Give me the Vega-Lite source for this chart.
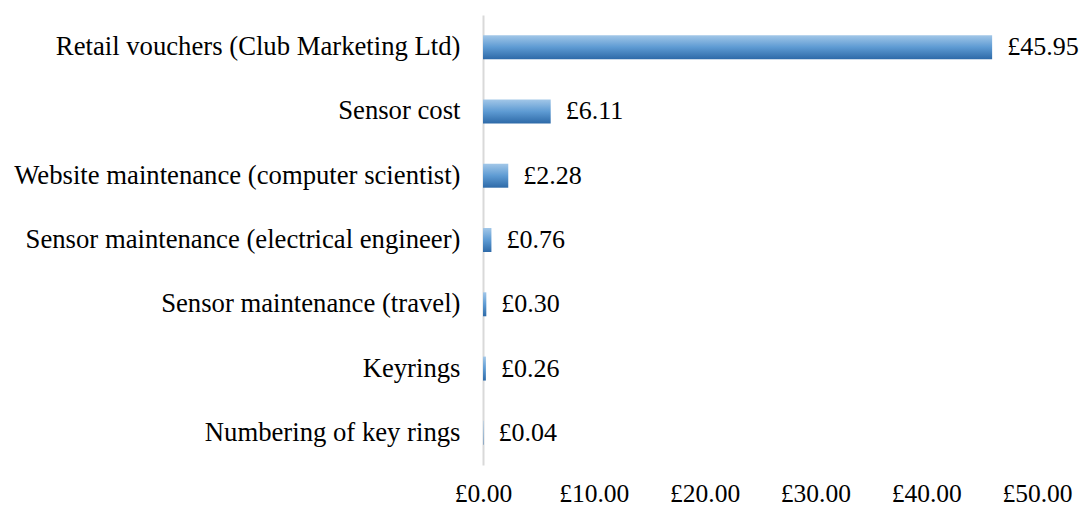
{
  "$schema": "https://vega.github.io/schema/vega-lite/v6.json",
  "autosize": "none",
  "width": 554,
  "height": 450,
  "padding": {"left": 483, "top": 15, "right": 45, "bottom": 43},
  "background": "white",
  "config": {
    "view": {"stroke": null},
    "font": "Liberation Serif",
    "locale": {"number": {"decimal": ".", "thousands": ",", "grouping": [3], "currency": ["£", ""]}}
  },
  "data": {
    "values": [
      {"item": "Retail vouchers (Club Marketing Ltd)", "cost": 45.95},
      {"item": "Sensor cost", "cost": 6.11},
      {"item": "Website maintenance (computer scientist)", "cost": 2.28},
      {"item": "Sensor maintenance (electrical engineer)", "cost": 0.76},
      {"item": "Sensor maintenance (travel)", "cost": 0.30},
      {"item": "Keyrings", "cost": 0.26},
      {"item": "Numbering of key rings", "cost": 0.04}
    ]
  },
  "encoding": {
    "y": {
      "field": "item", "type": "nominal", "sort": null,
      "scale": {"paddingInner": 0.627, "paddingOuter": 0.3135},
      "axis": {
        "title": null, "ticks": false, "labelFontSize": 26.7, "labelColor": "#000000",
        "labelPadding": 23, "domainColor": "#d9d9d9", "domainWidth": 2, "labelLimit": 500
      }
    },
    "x": {
      "field": "cost", "type": "quantitative",
      "scale": {"domain": [0, 50], "nice": false},
      "axis": {
        "title": null, "values": [0, 10, 20, 30, 40, 50], "format": "$.2f",
        "grid": false, "ticks": false, "domain": false, "labelFontSize": 25.5,
        "labelColor": "#000000", "labelPadding": 16, "labelFlush": false
      }
    }
  },
  "layer": [
    {
      "mark": {
        "type": "bar",
        "color": {
          "gradient": "linear", "x1": 0, "y1": 0, "x2": 0, "y2": 1,
          "stops": [
            {"offset": 0, "color": "#a2c7e8"},
            {"offset": 0.5, "color": "#5e9bd3"},
            {"offset": 1, "color": "#2e6aa8"}
          ]
        }
      }
    },
    {
      "mark": {"type": "text", "align": "left", "dx": 15, "fontSize": 26, "color": "#000000"},
      "encoding": {"text": {"field": "cost", "type": "quantitative", "format": "$.2f"}}
    }
  ]
}
